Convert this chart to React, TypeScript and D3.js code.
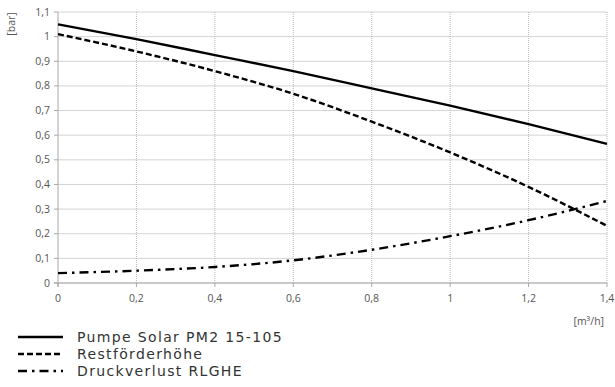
import React from "react"
import * as d3 from "d3"

const flow = [0, 0.2, 0.4, 0.6, 0.8, 1.0, 1.2, 1.4]
const pumpe = [1.05, 0.99, 0.925, 0.86, 0.79, 0.72, 0.645, 0.565]
const rest = [1.01, 0.94, 0.86, 0.768, 0.655, 0.53, 0.39, 0.232]
const druck = [0.04, 0.05, 0.065, 0.092, 0.135, 0.19, 0.255, 0.333]

const xTicks = [0, 0.2, 0.4, 0.6, 0.8, 1, 1.2, 1.4]
const yTicks = [0, 0.1, 0.2, 0.3, 0.4, 0.5, 0.6, 0.7, 0.8, 0.9, 1, 1.1]

const seriesNames = ["Pumpe Solar PM2 15-105", "Restförderhöhe", "Druckverlust RLGHE"]
const dashes = ["", "6,3", "9,5,2.5,5"]

const W = 615
const H = 387
const M = { top: 12, right: 8, bottom: 104, left: 58 }

const fmt = (v: number) => String(Math.round(v * 10) / 10).replace(".", ",")

export default function App() {
  const x = d3.scaleLinear().domain([0, 1.4]).range([M.left, W - M.right])
  const y = d3.scaleLinear().domain([0, 1.1]).range([H - M.bottom, M.top])
  const line = d3
    .line<number>()
    .x((_, i) => x(flow[i]))
    .y((d) => y(d))
    .curve(d3.curveMonotoneX)
  const all = [pumpe, rest, druck]
  const tickFont = "'Open Sans', 'Noto Sans', sans-serif"
  const legFont = "'DejaVu Sans', Verdana, sans-serif"

  return (
    <svg
      width={W}
      height={H}
      style={{ position: "absolute", left: 0, top: 0, background: "#fff" }}
    >
      {/* horizontal grid */}
      {yTicks.map((t) => (
        <line key={"h" + t} x1={x(0)} x2={x(1.4)} y1={y(t)} y2={y(t)} stroke="#d4d4d4" strokeWidth={1} />
      ))}
      {/* vertical grid, dotted */}
      {xTicks.slice(1).map((t) => (
        <line key={"v" + t} x1={x(t)} x2={x(t)} y1={y(1.1)} y2={y(0)} stroke="#b8b8b8" strokeWidth={1} strokeDasharray="1,1" />
      ))}
      {/* axes */}
      <line x1={x(0)} x2={x(0)} y1={y(1.1)} y2={y(0) + 4} stroke="#a8a8a8" />
      <line x1={x(0) - 4} x2={x(1.4)} y1={y(0)} y2={y(0)} stroke="#a8a8a8" />
      {yTicks.map((t) => (
        <line key={"yt" + t} x1={x(0) - 4} x2={x(0)} y1={y(t)} y2={y(t)} stroke="#a8a8a8" />
      ))}
      {xTicks.map((t) => (
        <line key={"xt" + t} x1={x(t)} x2={x(t)} y1={y(0)} y2={y(0) + 4} stroke="#a8a8a8" />
      ))}
      {yTicks.map((t) => (
        <text key={"yl" + t} x={x(0) - 8} y={y(t) + 3.5} textAnchor="end" fontSize={10.5} fontFamily={tickFont} fill="#555">
          {fmt(t)}
        </text>
      ))}
      {xTicks.map((t) => (
        <text key={"xl" + t} x={x(t)} y={y(0) + 19} textAnchor="middle" fontSize={10.5} fontFamily={tickFont} fill="#555">
          {fmt(t)}
        </text>
      ))}
      <text transform="translate(15,24) rotate(-90)" textAnchor="middle" fontSize={10.5} fontFamily={tickFont} fill="#555">
        [bar]
      </text>
      <text x={604} y={y(0) + 42} textAnchor="end" fontSize={10.5} fontFamily={tickFont} fill="#555">
        [m³/h]
      </text>
      {/* series */}
      {all.map((s, i) => (
        <path key={"s" + i} d={line(s) ?? ""} fill="none" stroke="#000" strokeWidth={2.4} strokeDasharray={dashes[i] || undefined} />
      ))}
      {/* legend */}
      {seriesNames.map((n, i) => (
        <g key={"lg" + i} transform={`translate(0,${337 + i * 17})`}>
          <line x1={18} x2={63} y1={0} y2={0} stroke="#000" strokeWidth={2.4} strokeDasharray={dashes[i] || undefined} />
          <text x={77} y={5} fontSize={14} letterSpacing={1.35} fontFamily={legFont} fill="#333">
            {n}
          </text>
        </g>
      ))}
    </svg>
  )
}
